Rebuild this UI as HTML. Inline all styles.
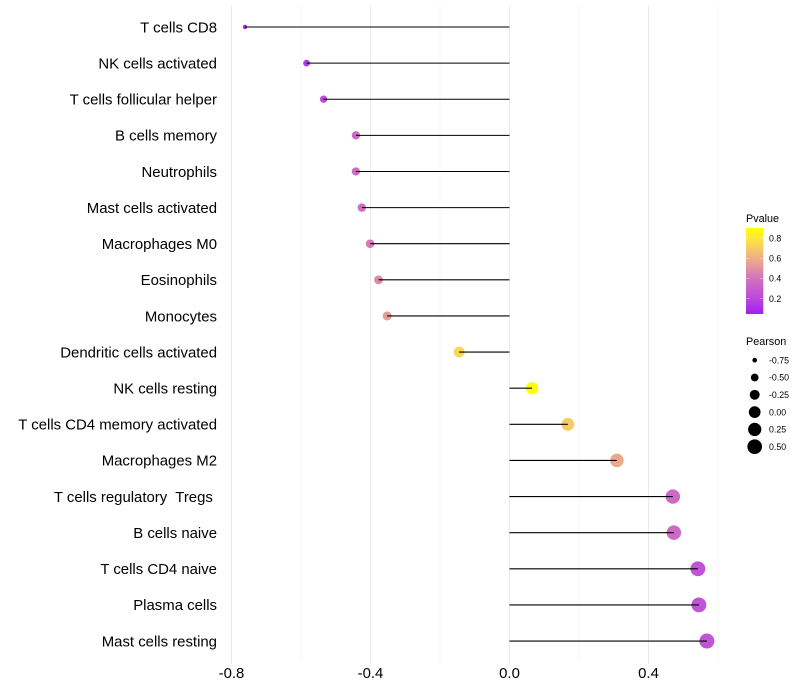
<!DOCTYPE html>
<html>
<head>
<meta charset="utf-8">
<title>Immune cell correlation lollipop chart</title>
<style>
html,body{margin:0;padding:0;background:#fff;width:800px;height:700px;overflow:hidden}
svg{display:block;font-family:"Liberation Sans",sans-serif}
text{white-space:pre}
</style>
</head>
<body>
<svg id="chart" xmlns="http://www.w3.org/2000/svg" width="800" height="700" viewBox="0 0 800 700" xml:space="preserve">
<defs>
<linearGradient id="pvalue-gradient" x1="0" y1="1" x2="0" y2="0"></linearGradient>
</defs>
<rect x="0" y="0" width="800" height="700" fill="#fff"></rect>
<g id="grid"></g>
<g id="points"></g>
<g id="segments"></g>
<g id="ylabels"></g>
<g id="xlabels"></g>
<g id="legend-p"></g>
<g id="legend-s"></g>
</svg>
<script>
const categories = ["T cells CD8","NK cells activated","T cells follicular helper","B cells memory","Neutrophils","Mast cells activated","Macrophages M0","Eosinophils","Monocytes","Dendritic cells activated","NK cells resting","T cells CD4 memory activated","Macrophages M2","T cells regulatory  Tregs ","B cells naive","T cells CD4 naive","Plasma cells","Mast cells resting"];
const pearson = [-0.761,-0.584,-0.535,-0.442,-0.442,-0.425,-0.401,-0.377,-0.352,-0.145,0.065,0.168,0.309,0.470,0.473,0.542,0.545,0.568];
const pvalue = [0.05,0.15,0.22,0.36,0.36,0.38,0.42,0.48,0.54,0.74,0.9,0.7,0.58,0.36,0.36,0.25,0.25,0.25];
const xTickLabels = [-0.8,-0.4,0.0,0.4];
const xGridMajor = [-0.8,-0.4,0.0,0.4];
const xGridMinor = [-0.6,-0.2,0.2,0.6];
const pvalueLegendTicks = [0.8,0.6,0.4,0.2];
const pearsonLegendValues = [-0.75,-0.5,-0.25,0,0.25,0.5];

const NS = 'http://www.w3.org/2000/svg';
const PLOT_TOP = 5;
const pMin = 0.047, pMax = 0.9;
const sMin = -0.761, sMax = 0.568;

function xScale(v){ return 509.5 + v * 347.5; }
function yScale(i){ return 27 + i * 36.12; }
function sizeScale(v){
  const t = (v - sMin) / (sMax - sMin);
  return Math.sqrt(4.84 + 51.4 * t);
}
function pLegendY(v){ return 314 - (v - pMin) / (pMax - pMin) * 86; }

const colorStops = [[0,[160,32,240]],[0.18,[186,72,222]],[0.4,[208,112,190]],[0.55,[228,150,160]],[0.75,[245,200,105]],[0.88,[252,232,60]],[1,[255,255,0]]];
function colorAt(t){
  t = Math.max(0, Math.min(1, t));
  for (let k = 1; k < colorStops.length; k++) {
    if (t <= colorStops[k][0]) {
      const a = colorStops[k-1], b = colorStops[k];
      const f = (t - a[0]) / (b[0] - a[0]);
      const c = a[1].map((x, j) => Math.round(x + (b[1][j] - x) * f));
      return 'rgb(' + c.join(',') + ')';
    }
  }
  return 'rgb(255,255,0)';
}
function pColor(v){ return colorAt((v - pMin) / (pMax - pMin)); }

function make(parent, tag, attrs, text){
  const el = document.createElementNS(NS, tag);
  for (const k in attrs) el.setAttribute(k, attrs[k]);
  if (text !== undefined) el.textContent = text;
  parent.appendChild(el);
  return el;
}

const grid = document.getElementById('grid');
xGridMinor.forEach(function(v){
  const el = make(grid, 'line', {x1: xScale(v), x2: xScale(v), y1: PLOT_TOP, y2: 662, stroke: '#ebebeb', 'stroke-width': 0.55});
  
  
});
xGridMajor.forEach(function(v){
  const el = make(grid, 'line', {x1: xScale(v), x2: xScale(v), y1: PLOT_TOP, y2: 664, stroke: '#ebebeb', 'stroke-width': 1});
  
  
});

const pointsG = document.getElementById('points');
const segmentsG = document.getElementById('segments');
const yLabelsG = document.getElementById('ylabels');
categories.forEach(function(name, i){
  const y = yScale(i);
  const pt = make(pointsG, 'circle', {cx: xScale(pearson[i]), cy: y, r: sizeScale(pearson[i]), fill: pColor(pvalue[i])});
  
  
  const seg = make(segmentsG, 'line', {x1: xScale(0), x2: xScale(pearson[i]), y1: y, y2: y, stroke: '#000', 'stroke-width': 1.07});
  
  
  const lab = make(yLabelsG, 'text', {x: 217, y: y + 5.3, 'text-anchor': 'end', 'font-size': 14.93, fill: '#000'}, name);
  
  
});

const xLabelsG = document.getElementById('xlabels');
xTickLabels.forEach(function(v){
  const lab = make(xLabelsG, 'text', {x: xScale(v), y: 678, 'text-anchor': 'middle', 'font-size': 14.93, fill: '#000'}, v.toFixed(1));
  
  
});

const grad = document.getElementById('pvalue-gradient');
colorStops.forEach(function(s){
  make(grad, 'stop', {offset: s[0], 'stop-color': 'rgb(' + s[1].join(',') + ')'});
});

const legendP = document.getElementById('legend-p');
const pTitle = make(legendP, 'text', {x: 746, y: 222, 'font-size': 10.8, fill: '#000'}, 'Pvalue');


const pBar = make(legendP, 'rect', {x: 746, y: 228, width: 17.3, height: 86, fill: 'url(#pvalue-gradient)'});


pvalueLegendTicks.forEach(function(v){
  const y = pLegendY(v);
  const t1 = make(legendP, 'line', {x1: 746, x2: 749.5, y1: y, y2: y, stroke: '#fff', 'stroke-opacity': 0.6, 'stroke-width': 0.6});
  
  
  const t2 = make(legendP, 'line', {x1: 759.8, x2: 763.3, y1: y, y2: y, stroke: '#fff', 'stroke-opacity': 0.6, 'stroke-width': 0.6});
  
  
  const lab = make(legendP, 'text', {x: 769, y: y + 3.2, 'font-size': 8.8, fill: '#000'}, v.toFixed(1));
  
  
});

const legendS = document.getElementById('legend-s');
const sTitle = make(legendS, 'text', {x: 746, y: 345, 'font-size': 10.8, fill: '#000'}, 'Pearson');


pearsonLegendValues.forEach(function(v, i){
  const y = 360.2 + i * 17.3;
  const dot = make(legendS, 'circle', {cx: 754.7, cy: y, r: sizeScale(v), fill: '#000'});
  
  
  const lab = make(legendS, 'text', {x: 769, y: y + 3.2, 'font-size': 8.8, fill: '#000'}, v.toFixed(2));
  
  
});
</script>
</body>
</html>
